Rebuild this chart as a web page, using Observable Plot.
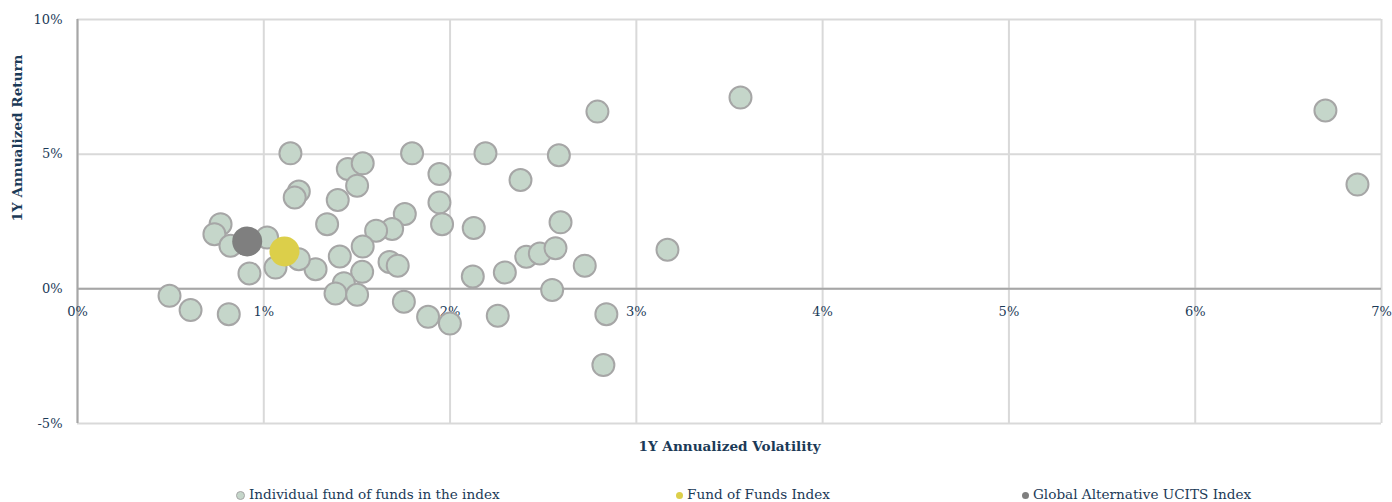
<!DOCTYPE html>
<html>
<head>
<meta charset="utf-8">
<script src="https://cdn.jsdelivr.net/npm/d3@7"></script>
<script src="https://cdn.jsdelivr.net/npm/@observablehq/plot@0.6"></script>
<style>
  body { margin: 0; background: #fff; font-family: "DejaVu Serif", serif; }
  #legend { position: relative; height: 32px; width: 1392px; color: #1b3a57; font-size: 13.6px; }
  .item { position: absolute; top: 16px; white-space: nowrap; display: flex; align-items: center; }
  .dot { display: inline-block; width: 7px; height: 7px; border-radius: 50%; margin-right: 4px; margin-top: 2px; }
</style>
</head>
<body>
<div id="chart"></div>
<div id="legend"></div>
<script>
// Individual fund of funds in the index: 1Y annualized volatility (%) and return (%)
const fundVol = [1.143, 1.796, 1.943, 1.943, 1.957, 1.451, 1.531, 1.501, 1.188, 1.166, 1.397, 1.340, 1.757, 1.689, 1.603, 1.531, 1.408, 1.675, 1.719, 1.528, 1.430, 1.385, 1.501, 1.752, 1.882, 1.999, 1.278, 1.188, 1.063, 1.018, 0.923, 0.768, 0.735, 0.821, 0.494, 0.607, 0.812, 2.190, 2.584, 2.378, 2.593, 2.127, 2.122, 2.294, 2.409, 2.482, 2.566, 2.723, 2.548, 2.256, 2.839, 2.791, 3.559, 3.167, 2.823, 6.699, 6.871];
const fundRet = [5.03, 5.03, 4.26, 3.21, 2.40, 4.45, 4.66, 3.83, 3.61, 3.39, 3.30, 2.40, 2.78, 2.22, 2.16, 1.57, 1.20, 1.00, 0.86, 0.63, 0.21, -0.17, -0.22, -0.48, -1.04, -1.29, 0.73, 1.10, 0.79, 1.91, 0.57, 2.40, 2.03, 1.60, -0.26, -0.79, -0.94, 5.03, 4.96, 4.04, 2.47, 2.26, 0.46, 0.61, 1.19, 1.31, 1.51, 0.86, -0.04, -1.00, -0.94, 6.58, 7.10, 1.45, -2.83, 6.62, 3.87];
// Indices
const indexNames = ["Global Alternative UCITS Index", "Fund of Funds Index"];
const indexVol = [0.911, 1.111];
const indexRet = [1.76, 1.39];
const indexColors = ["#7f7f7f", "#dccf4a"];
// Axis ticks
const xTicks = [0, 1, 2, 3, 4, 5, 6, 7];
const yTicks = [-5, 0, 5, 10];
const xTitle = "1Y Annualized Volatility";
const yTitle = "1Y Annualized Return";
const legendLabels = ["Individual fund of funds in the index", "Fund of Funds Index", "Global Alternative UCITS Index"];
const fundColor = "#c5d6ca";
const fundStroke = "#a6a6a6";

const funds = fundVol.map((v, i) => ({vol: v, ret: fundRet[i]}));
const indices = indexVol.map((v, i) => ({vol: v, ret: indexRet[i], name: indexNames[i], color: indexColors[i]}));
const textColor = "#1b3a57";

const chart = Plot.plot({
  width: 1392,
  height: 470,
  marginTop: 19,
  marginBottom: 47,
  marginLeft: 77,
  marginRight: 11,
  style: {fontFamily: "DejaVu Serif, serif", fontSize: "13px", color: textColor, background: "#fff"},
  x: {domain: [0, 7], axis: null},
  y: {domain: [-5, 10], axis: null},
  marks: [
    Plot.ruleX(xTicks, {stroke: "#d9d9d9", strokeWidth: 2}),
    Plot.ruleY(yTicks, {stroke: "#d9d9d9", strokeWidth: 2}),
    Plot.ruleY([0], {stroke: "#a6a6a6", strokeWidth: 2}),
    Plot.ruleX([0], {stroke: "#a6a6a6", strokeWidth: 2}),
    Plot.axisY({ticks: yTicks, tickFormat: d => d + "%", tickSize: 0, tickPadding: 15, label: null, fill: textColor, fontSize: 13}),
    Plot.text(xTicks, {x: d => d, y: 0, dy: 23, text: d => d + "%", fill: textColor, fontSize: 13}),
    Plot.dot(funds, {x: "vol", y: "ret", r: 11, fill: fundColor, stroke: fundStroke, strokeWidth: 2}),
    Plot.dot(indices, {x: "vol", y: "ret", r: 15, fill: "color"}),
    Plot.text([xTitle], {frameAnchor: "bottom", dy: 27, text: d => d, fontWeight: "bold", fill: textColor, fontSize: 13.6}),
    Plot.text([yTitle], {frameAnchor: "left", dx: -60, rotate: -90, text: d => d, fontWeight: "bold", fill: textColor, fontSize: 13.6})
  ]
});
document.getElementById("chart").appendChild(chart);

const legend = document.getElementById("legend");
const legendPos = [236, 676, 1022];
const legendDot = [[fundColor, fundStroke], [indexColors[1], null], [indexColors[0], null]];
legendLabels.forEach((lab, i) => {
  const it = document.createElement("div");
  it.className = "item";
  it.style.left = legendPos[i] + "px";
  const dot = document.createElement("span");
  dot.className = "dot";
  dot.style.background = legendDot[i][0];
  if (legendDot[i][1]) dot.style.border = "1px solid " + legendDot[i][1];
  it.appendChild(dot);
  it.appendChild(document.createTextNode(lab));
  legend.appendChild(it);
});
</script>
</body>
</html>
